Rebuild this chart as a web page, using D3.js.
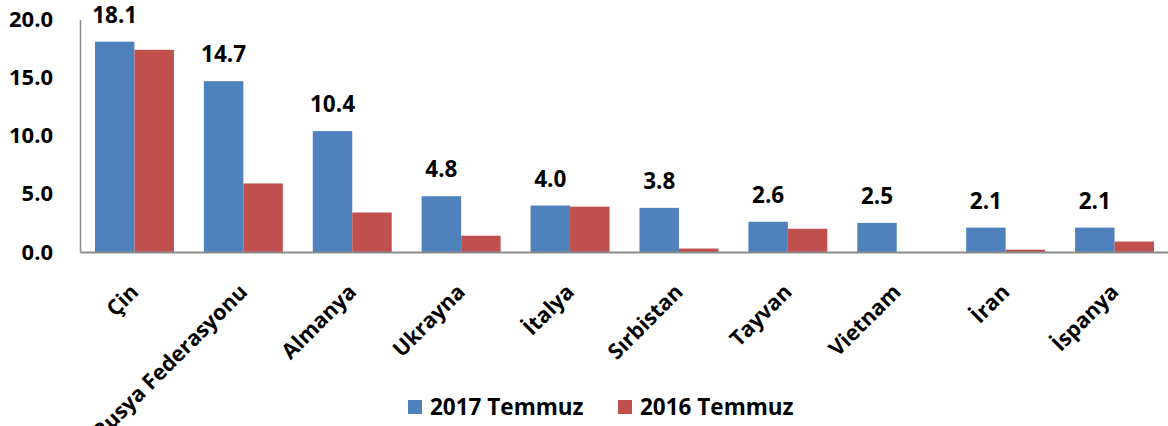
<!DOCTYPE html>
<html lang="tr">
<head>
  <meta charset="utf-8">
  <title>2017 Temmuz / 2016 Temmuz</title>
  <script src="https://cdn.jsdelivr.net/npm/d3@7"></script>
  <style>
    html, body { margin: 0; padding: 0; background: #fff; }
    body { font-family: "Open Sans", Arial, sans-serif; }
    svg text { font-weight: 700; fill: #000; }
  </style>
</head>
<body>
<div id="chart"></div>
<script>

const w = 1168;
const h = 426;

// data
const countries = ["Çin", "Rusya Federasyonu", "Almanya", "Ukrayna", "İtalya",
                   "Sırbistan", "Tayvan", "Vietnam", "İran", "İspanya"];
const series = ["2017 Temmuz", "2016 Temmuz"];
const values2017 = [18.1, 14.7, 10.4, 4.8, 4.0, 3.8, 2.6, 2.5, 2.1, 2.1];
const values2016 = [17.4, 5.9, 3.4, 1.4, 3.9, 0.3, 2.0, 0.0, 0.2, 0.9];
const yTicks = [0, 5, 10, 15, 20];

const colors = ["#4F81BD", "#C0504D"];

const rows = countries.map((c, i) => ({ country: c, values: [values2017[i], values2016[i]] }));

const svg = d3.select("#chart").append("svg")
    .attr("width", w)
    .attr("height", h);

const x0 = d3.scaleBand()
    .domain(countries)
    .range([80, 1169])
    .paddingInner(0.275)
    .paddingOuter(0.1375);

const x1 = d3.scaleBand()
    .domain(series)
    .range([0, x0.bandwidth()]);

const y = d3.scaleLinear()
    .domain([0, 20])
    .range([252, 19.6]);

const color = d3.scaleOrdinal().domain(series).range(colors);

// bars
const groups = svg.selectAll("g.grp")
    .data(rows)
    .enter().append("g")
    .attr("class", "grp")
    .attr("transform", d => `translate(${x0(d.country)},0)`);

groups.selectAll("rect")
    .data(d => d.values.map((v, i) => ({ key: series[i], value: v })))
    .enter().append("rect")
    .attr("x", d => x1(d.key))
    .attr("y", d => y(d.value))
    .attr("width", x1.bandwidth())
    .attr("height", d => y(0) - y(d.value))
    .attr("fill", d => color(d.key));

// value labels above the 2017 bars
groups.append("text")
    .attr("x", x1(series[0]) + x1.bandwidth() / 2)
    .attr("y", d => y(d.values[0]) - 19)
    .attr("text-anchor", "middle")
    .attr("font-size", 22.5)
    .text(d => d.values[0].toFixed(1));

// y axis
const yAxis = svg.append("g")
    .attr("transform", "translate(80,0)")
    .call(d3.axisLeft(y).tickValues(yTicks).tickSize(0).tickPadding(27).tickFormat(d3.format(".1f")));
yAxis.select(".domain").attr("stroke", "#8c8c8c").attr("stroke-width", 1.5);
yAxis.selectAll("text")
    .attr("font-size", 22)
    .attr("font-family", "'Open Sans', Arial, sans-serif");

// x axis line
const xAxis = svg.append("g")
    .attr("transform", `translate(0,${y(0)})`)
    .call(d3.axisBottom(x0).tickSize(0).tickFormat(""));
xAxis.select(".domain").attr("stroke", "#8c8c8c").attr("stroke-width", 2);

// rotated category labels
svg.append("g").selectAll("text")
    .data(countries)
    .enter().append("text")
    .attr("transform", d => `translate(${x0(d) + x0.bandwidth() / 2},288) rotate(-45)`)
    .attr("text-anchor", "end")
    .attr("dy", "0.35em")
    .attr("font-size", 21.5)
    .text(d => d);

// legend
const legendX = [408, 618];
const legend = svg.append("g").selectAll("g")
    .data(series)
    .enter().append("g")
    .attr("transform", (d, i) => `translate(${legendX[i]},400)`);

legend.append("rect")
    .attr("width", 14)
    .attr("height", 14)
    .attr("fill", d => color(d));

legend.append("text")
    .attr("x", 22)
    .attr("y", 7)
    .attr("dy", "0.36em")
    .attr("font-size", 22.5)
    .text(d => d);

</script>
</body>
</html>
